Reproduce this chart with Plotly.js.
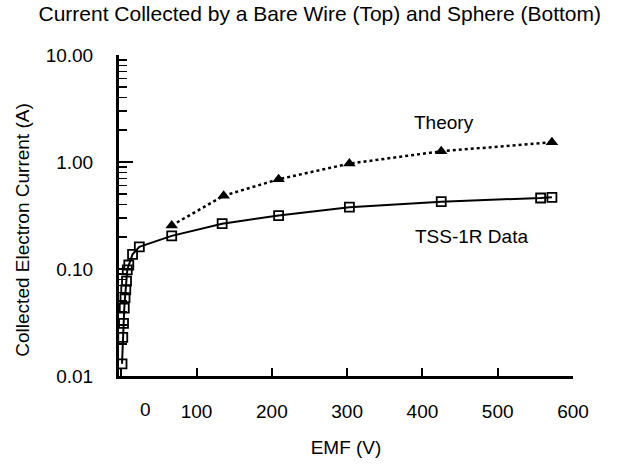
<!DOCTYPE html>
<html><head><meta charset="utf-8">
<script src="https://cdn.plot.ly/plotly-3.0.1.min.js"></script>
<style>html,body{margin:0;padding:0;background:#fff;}</style>
</head><body>
<div id="chart" style="width:627px;height:467px;"></div>
<script>
var dataEmf = [1, 2, 3, 4, 5, 6, 7, 8, 10, 15, 24, 67, 134, 209, 303, 425, 557, 572];
var dataCurrent = [0.013, 0.023, 0.031, 0.043, 0.054, 0.064, 0.077, 0.098, 0.109, 0.137, 0.161, 0.204, 0.265, 0.316, 0.378, 0.426, 0.461, 0.468];
var theoryEmf = [67, 136, 209, 303, 425, 572];
var theoryCurrent = [0.255, 0.484, 0.69, 0.966, 1.26, 1.53];
var xTicks = [0, 100, 200, 300, 400, 500, 600];
var xTickText = ["", "100", "200", "300", "400", "500", "600"];
var yTicks = [0.01, 0.1, 1, 10];
var yTickText = ["0.01", "0.10", "1.00", "10.00"];

var F = "Liberation Sans, Arial, sans-serif";

var traces = [
  {x: theoryEmf, y: theoryCurrent, mode: "lines+markers", name: "Theory",
   line: {color: "#000", width: 2.5, dash: "dot"},
   marker: {symbol: "triangle-up", size: 11, color: "#000"}},
  {x: dataEmf, y: dataCurrent, mode: "lines+markers", name: "TSS-1R Data",
   line: {color: "#000", width: 2},
   marker: {symbol: "square-open", size: 9, color: "#000", line: {width: 1.8, color: "#000"}}}
];

var layout = {
  width: 627, height: 467,
  margin: {l: 119, r: 54, t: 55, b: 91},
  paper_bgcolor: "#fff", plot_bgcolor: "#fff",
  showlegend: false,
  font: {family: F, color: "#000", size: 18},
  title: {text: "Current Collected by a Bare Wire (Top) and Sphere (Bottom)",
          font: {family: F, size: 21, color: "#000"}, x: 0.51, xanchor: "center", y: 0.97, yanchor: "middle"},
  xaxis: {range: [-3, 600], tickvals: xTicks, ticktext: xTickText,
          ticks: "inside", ticklen: 8, tickwidth: 2, tickcolor: "#000",
          showline: true, linewidth: 3, linecolor: "#000", showgrid: false, zeroline: false,
          ticklabelstandoff: 16, tickfont: {family: F, size: 19},
          title: {text: "EMF (V)", font: {family: F, size: 19}, standoff: 20}},
  yaxis: {type: "log", range: [-2, 1], tickvals: yTicks, ticktext: yTickText,
          ticks: "inside", ticklen: 14, tickwidth: 2, tickcolor: "#000",
          minor: {ticks: "inside", ticklen: 8, tickwidth: 1.5, tickcolor: "#000",
                  tickvals: [0.02,0.03,0.04,0.05,0.06,0.07,0.08,0.09,0.2,0.3,0.4,0.5,0.6,0.7,0.8,0.9,2,3,4,5,6,7,8,9]},
          showline: true, linewidth: 3, linecolor: "#000", showgrid: false, zeroline: false,
          ticklabelstandoff: 19, tickfont: {family: F, size: 19}},
  annotations: [
    {x: 32, y: -2, xref: "x", yref: "y", text: "0", showarrow: false, yshift: -33, font: {family: F, size: 19}},
    {x: -0.212, y: 0.455, xref: "paper", yref: "paper", xanchor: "center", yanchor: "middle",
     text: "Collected Electron Current (A)", textangle: -90,
     showarrow: false, font: {family: F, size: 19}},
    {x: 428, y: Math.log10(2.35), xref: "x", yref: "y", text: "Theory", showarrow: false, font: {family: F, size: 19}},
    {x: 465, y: Math.log10(0.2), xref: "x", yref: "y", text: "TSS-1R Data", showarrow: false, font: {family: F, size: 19}}
  ]
};

Plotly.newPlot("chart", traces, layout, {displayModeBar: false, staticPlot: true});
</script>
</body></html>
